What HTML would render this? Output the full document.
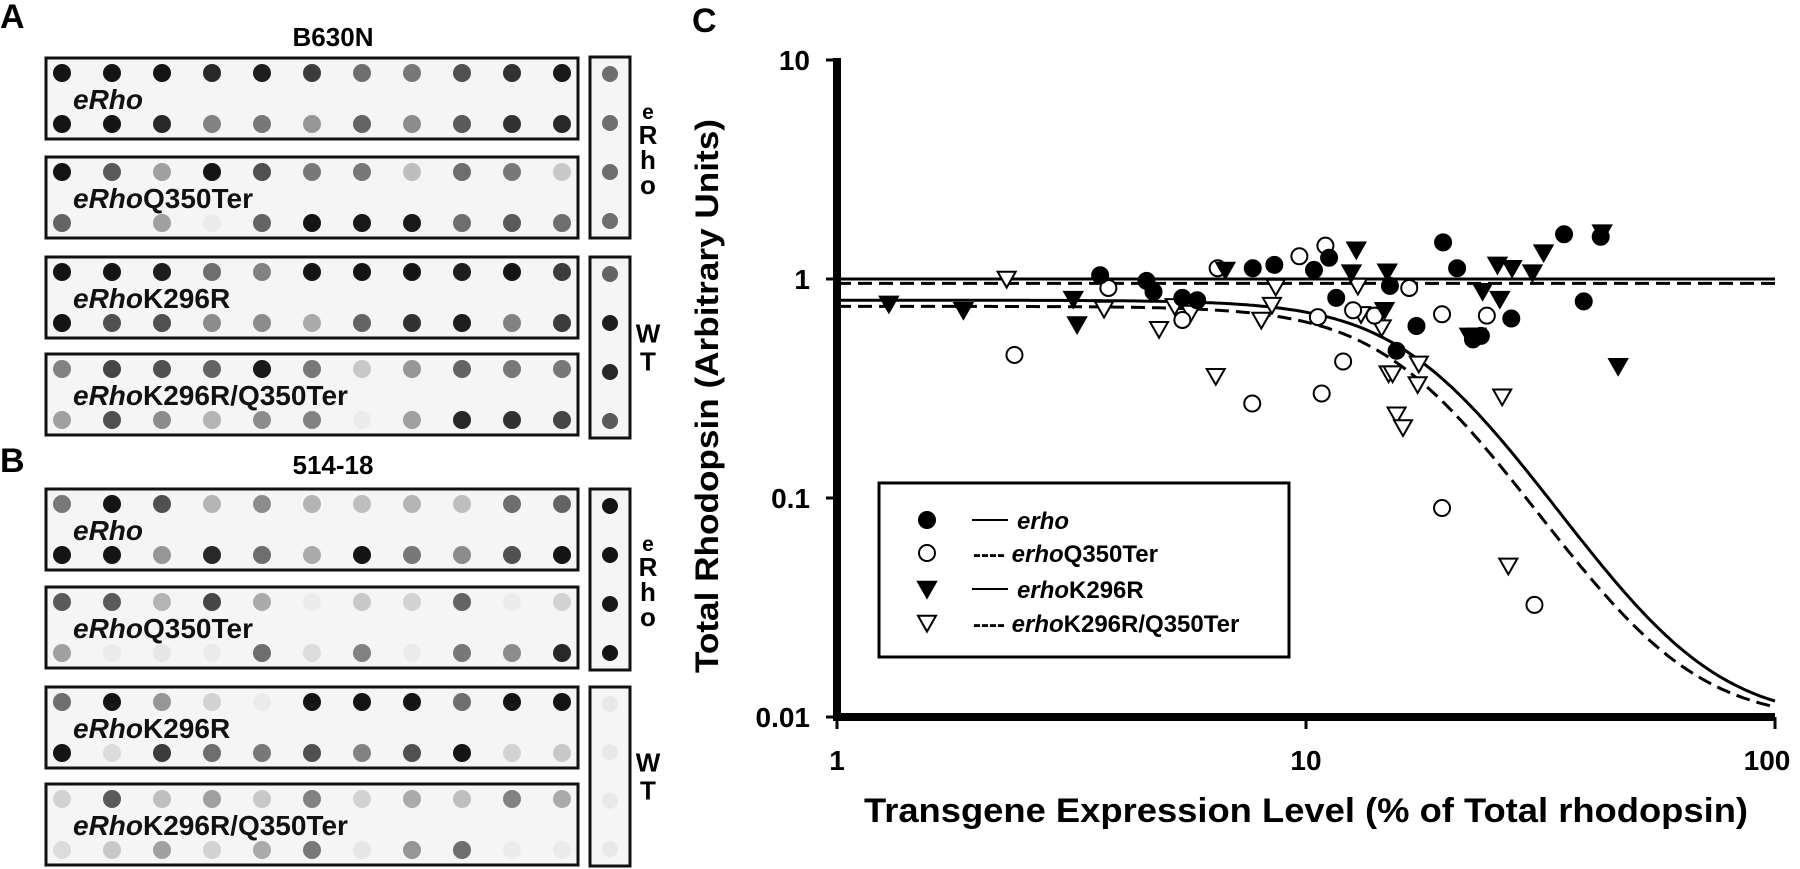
<!DOCTYPE html>
<html><head><meta charset="utf-8"><style>
html,body{margin:0;padding:0;background:#fff;}
svg{display:block;font-family:"Liberation Sans",Arial,sans-serif;}
</style></head><body>
<svg id="fig" width="1800" height="869" viewBox="0 0 1800 869" xmlns="http://www.w3.org/2000/svg">
<g id="blots"></g>
<g id="chart"></g>
</svg>
<script>
// ===== Chart data =====
const erhoX = [3.64,4.57,4.73,5.45,5.86,7.7,8.56,10.4,11.2,11.6,15.1,15.6,17.2,19.6,21.0,22.7,23.6,27.4,35.5,39.1,42.5];
const erhoY = [1.04,0.98,0.875,0.82,0.80,1.12,1.16,1.10,1.25,0.82,0.93,0.47,0.61,1.47,1.12,0.53,0.55,0.66,1.60,0.79,1.56];
const q350X = [2.39,3.79,5.45,6.48,7.68,9.68,10.6,10.8,11.0,12.0,12.6,14.0,16.6,19.5,19.5,24.3,30.7];
const q350Y = [0.45,0.91,0.65,1.12,0.27,1.27,0.67,0.30,1.42,0.42,0.72,0.68,0.91,0.69,0.090,0.68,0.0325];
const k296X = [1.29,1.86,3.19,3.25,6.73,12.8,12.5,14.9,14.7,23.8,25.9,25.6,27.5,30.4,32.1,42.8,46.3,22.3,23.1];
const k296Y = [0.77,0.72,0.81,0.62,1.10,1.36,1.07,1.08,0.72,0.88,0.81,1.16,1.12,1.07,1.32,1.63,0.40,0.55,0.55];
const dblX = [2.30,3.71,4.86,5.25,5.68,6.42,8.03,8.46,8.62,12.9,13.1,14.5,15.0,15.3,15.6,16.1,17.4,17.3,26.2,27.0];
const dblY = [1.0,0.73,0.59,0.75,0.70,0.36,0.65,0.76,0.92,0.93,0.69,0.60,0.37,0.37,0.24,0.21,0.41,0.33,0.29,0.049];
// fit lines: [top, bottom, ec50, hill]
const fitSolidFlat = [1.0];
const fitDashedFlat = [0.955];
const fitSolidCurve = [0.80, 0.0095, 18, 3.4];
const fitDashedCurve = [0.75, 0.0095, 16.5, 3.4];
const xTicks = [1, 10, 100];
const xTickLabels = ["1", "10", "100"];
const yTicks = [0.01, 0.1, 1, 10];
const yTickLabels = ["0.01", "0.1", "1", "10"];

// ===== Blot data (gray levels) =====
const blotA = [
 [[20,20,20,40,30,60,110,120,80,50,25],[20,20,40,130,120,150,100,140,90,50,40]],
 [[20,90,160,20,80,120,120,190,110,120,200],[100,245,160,235,100,20,25,25,110,90,110]],
 [[20,20,30,110,130,20,20,20,30,20,60],[20,80,80,140,140,170,100,50,30,130,60]],
 [[130,70,80,100,25,120,200,150,100,120,120],[160,80,140,180,140,130,235,160,40,50,70]]
];
const blotB = [
 [[120,20,80,180,140,180,190,180,190,110,100],[20,20,150,40,110,170,20,120,140,80,20]],
 [[90,90,180,70,170,235,200,210,100,235,210],[160,235,230,235,110,220,130,235,120,140,40]],
 [[110,20,150,210,235,20,20,20,110,20,20],[20,220,60,110,120,80,130,80,20,210,200]],
 [[210,90,190,160,200,130,210,170,190,130,170],[220,200,160,210,170,120,230,150,110,235,235]]
];
const blotNames = ["eRho","eRhoQ350Ter","eRhoK296R","eRhoK296R/Q350Ter"];
const sideA = [[110,110,110,110],[100,30,40,90]];
const sideB = [[20,20,25,20],[232,232,232,232]];

const NS = "http://www.w3.org/2000/svg";
function mk(tag, attrs, parent){
  const e = document.createElementNS(NS, tag);
  for (const k in attrs) e.setAttribute(k, attrs[k]);
  if (parent) parent.appendChild(e);
  return e;
}
function gray(v){return `rgb(${v},${v},${v})`;}

// ===== Blots =====
const blots = document.getElementById('blots');
function panelLabel(txt, x, y, size, name){
  const t = mk('text',{x:x,y:y,'font-size':size,'font-weight':'bold'},blots);
  t.textContent = txt;
  
  
}
panelLabel('A',0,28,34,'panel-a-label');
panelLabel('B',0,472,34,'panel-b-label');
const tA = mk('text',{x:333,y:46,'font-size':26,'font-weight':'bold','text-anchor':'middle'},blots);
tA.textContent='B630N';


const tB = mk('text',{x:333,y:474,'font-size':26,'font-weight':'bold','text-anchor':'middle'},blots);
tB.textContent='514-18';



function drawBlotGroup(data, tops, prefix){
  data.forEach((rows, i)=>{
    const top = tops[i];
    const g = mk('g',{},blots);
    
    
    mk('rect',{x:46,y:top,width:532,height:81,fill:'#f5f5f5',stroke:'#111','stroke-width':3},g);
    rows.forEach((row, r)=>{
      row.forEach((v, c)=>{
        const d = mk('circle',{cx:62+c*50,cy:top+15+r*51,r:9,fill:gray(v)},g);
        
        
      });
    });
    const t = mk('text',{x:73,y:top+51,'font-size':28,'font-weight':'bold',fill:'#111'},g);
    const name = blotNames[i];
    const s1 = mk('tspan',{'font-style':'italic'},t); s1.textContent = 'eRho';
    if (name.length>4){ const s2 = mk('tspan',{},t); s2.textContent = name.slice(4); }
    
    
  });
}
drawBlotGroup(blotA,[58,157,257,354],'a');
drawBlotGroup(blotB,[489,587,687,784],'b');

function drawSide(levels, top, h, label, prefix){
  const g = mk('g',{},blots);
  
  
  mk('rect',{x:590,y:top,width:40,height:h,fill:'#f5f5f5',stroke:'#111','stroke-width':3},g);
  levels.forEach((v,k)=>{
    mk('circle',{cx:610,cy:top+17+k*(h-34)/3,r:8,fill:gray(v)},g);
  });
  const letters = label.split('');
  const step = letters.length===4 ? 25 : 28;
  const y0 = top + h/2 - (letters.length-1)*step/2 + 9;
  letters.forEach((L,k)=>{
    const t = mk('text',{x:648,y:y0+k*step,'font-size':(letters.length===4&&k===0)?21:26,'font-weight':'bold','text-anchor':'middle'},g);
    t.textContent = L;
  });
}
drawSide(sideA[0],57,181,'eRho','side-erho-a');
drawSide(sideA[1],257,181,'WT','side-wt-a');
drawSide(sideB[0],489,181,'eRho','side-erho-b');
drawSide(sideB[1],687,179,'WT','side-wt-b');

// ===== Chart =====
const chart = document.getElementById('chart');
const X0 = 837, X1 = 1775, Y10 = 60, Y001 = 717;
const xDec = (X1-X0)/2, yDec = (Y001-Y10)/3;
function xs(v){return X0 + Math.log10(v)*xDec;}
function ys(v){return Y001 - (Math.log10(v)+2)*yDec;}

const cl = mk('text',{x:692,y:32,'font-size':34,'font-weight':'bold'},chart);
cl.textContent='C';



// fit lines
const clip = mk('clipPath',{id:'plotclip'},chart);
mk('rect',{x:X0,y:Y10,width:X1-X0+2,height:Y001-Y10},clip);
const fits = mk('g',{'clip-path':'url(#plotclip)'},chart);


const h1 = mk('line',{x1:X0,x2:X1,y1:ys(fitSolidFlat[0]),y2:ys(fitSolidFlat[0]),stroke:'#000','stroke-width':3},fits);


const h2 = mk('line',{x1:X0,x2:X1,y1:ys(fitDashedFlat[0]),y2:ys(fitDashedFlat[0]),stroke:'#000','stroke-width':3,'stroke-dasharray':'14,7'},fits);


function curvePath(p){
  let d='';
  for(let i=0;i<=300;i++){
    const lx = i/150; const x = Math.pow(10,lx);
    const y = p[1] + (p[0]-p[1])/(1+Math.pow(x/p[2],p[3]));
    d += (i?'L':'M')+xs(x).toFixed(1)+','+ys(y).toFixed(1);
  }
  return d;
}
const c1 = mk('path',{d:curvePath(fitSolidCurve),fill:'none',stroke:'#000','stroke-width':3},fits);


const c2 = mk('path',{d:curvePath(fitDashedCurve),fill:'none',stroke:'#000','stroke-width':3,'stroke-dasharray':'14,7'},fits);



// markers
function marker(g, type, cx, cy){
  let e;
  if (type==='fc' || type==='oc'){
    e = mk('circle',{cx:cx,cy:cy,r:8,fill:type==='fc'?'#000':'#fff',stroke:'#000','stroke-width':2},g);
  } else {
    const s=9;
    e = mk('polygon',{points:`${cx-s},${cy-s*0.8} ${cx+s},${cy-s*0.8} ${cx},${cy+s*0.95}`,fill:type==='ft'?'#000':'#fff',stroke:'#000','stroke-width':2},g);
  }
  return e;
}
function series(xsArr, ysArr, type, name){
  const g = mk('g',{},chart);
  
  
  xsArr.forEach((x,i)=>{
    const e = marker(g, type, xs(x), ys(ysArr[i]));
    
    
  });
}
series(dblX, dblY, 'ot', 'erhok296r-q350ter');
series(q350X, q350Y, 'oc', 'erhoq350ter');
series(k296X, k296Y, 'ft', 'erhok296r');
series(erhoX, erhoY, 'fc', 'erho');

// axes
const yAx = mk('line',{x1:X0,x2:X0,y1:Y10-2,y2:Y001+4,stroke:'#000','stroke-width':8},chart);


const xAx = mk('line',{x1:X0-4,x2:X1,y1:Y001,y2:Y001,stroke:'#000','stroke-width':8},chart);


yTicks.forEach((v,i)=>{
  const y = ys(v);
  mk('line',{x1:X0-11,x2:X0,y1:y,y2:y,stroke:'#000','stroke-width':3},chart);
  const t = mk('text',{x:810,y:y+10,'font-size':28,'font-weight':'bold','text-anchor':'end'},chart);
  t.textContent = yTickLabels[i];
  
  
});
xTicks.forEach((v,i)=>{
  const x = xs(v);
  mk('line',{x1:x,x2:x,y1:Y001,y2:Y001+12,stroke:'#000','stroke-width':3},chart);
  const t = mk('text',{x:i===2?x-8:x,y:770,'font-size':28,'font-weight':'bold','text-anchor':'middle'},chart);
  t.textContent = xTickLabels[i];
  
  
});
const xt = mk('text',{x:1306,y:822,'font-size':34,'font-weight':'bold','text-anchor':'middle',textLength:884,lengthAdjust:'spacingAndGlyphs'},chart);
xt.textContent='Transgene Expression Level (% of Total rhodopsin)';


const yt = mk('text',{x:0,y:0,'font-size':32,'font-weight':'bold','text-anchor':'middle',textLength:554,lengthAdjust:'spacingAndGlyphs',transform:'translate(718,396) rotate(-90)'},chart);
yt.textContent='Total Rhodopsin (Arbitrary Units)';



// legend
const lg = mk('g',{},chart);


mk('rect',{x:879,y:483,width:410,height:174,fill:'#fff',stroke:'#000','stroke-width':3},lg);
const legTypes = ['fc','oc','ft','ot'];
const legSuffix = ['', 'Q350Ter', 'K296R', 'K296R/Q350Ter'];
const legDashed = [false,true,false,true];
const legY = [520,553,589,623];
legTypes.forEach((tp,i)=>{
  const row = mk('g',{},lg);
  
  
  marker(row, tp, 927, legY[i]);
  if (!legDashed[i]) mk('line',{x1:972,x2:1008,y1:legY[i],y2:legY[i],stroke:'#000','stroke-width':2},row);
  const t = mk('text',{x:legDashed[i]?973:1017,y:legY[i]+9,'font-size':24,'font-weight':'bold'},row);
  if (legDashed[i]) { const d = mk('tspan',{},t); d.textContent='---- '; }
  const it = mk('tspan',{'font-style':'italic'},t); it.textContent='erho';
  if (legSuffix[i]) { const s = mk('tspan',{},t); s.textContent=legSuffix[i]; }
});
</script>
</body></html>
